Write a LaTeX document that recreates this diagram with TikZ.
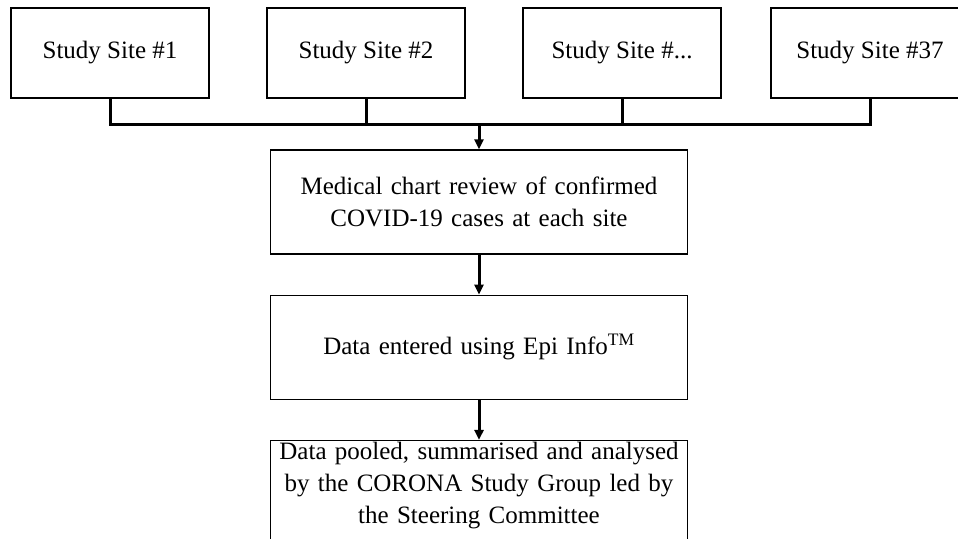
\documentclass[tikz,border=0pt]{standalone}
\usepackage{fontspec}
\setmainfont{Liberation Serif}
\usetikzlibrary{arrows.meta}
\usetikzlibrary{positioning}

\tikzset{
  sitebox/.style={draw, line width=1.3pt, minimum width=198pt, minimum height=90pt, inner sep=0pt},
  flowbox/.style={draw, line width=1.3pt, minimum width=417pt, minimum height=104pt, inner sep=0pt,
    text width=415pt, align=center},
  link/.style={line width=3pt},
  flow/.style={line width=3pt, -{Triangle[length=10pt,width=9pt]}}
}

\begin{document}
\begin{tikzpicture}[x=1pt, y=-1pt, font=\fontsize{25}{32}\selectfont]
  \useasboundingbox (0,0) rectangle (958,538);

  \node[sitebox] (site1) at (110,53) {Study Site \#1};
  \node[sitebox] (site2) at (366,53) {Study Site \#2};
  \node[sitebox] (site3) at (622,53) {Study Site \#...};
  \node[sitebox] (site4) at (870,53) {Study Site \#37};

  \node[flowbox] (review) at (479,202) {Medical chart review of confirmed\\COVID-19 cases at each site};
  \node[flowbox, below=40pt of review] (entry) {Data entered using Epi Info\textsuperscript{TM}};
  \node[flowbox, below=40pt of entry, minimum height=0pt, inner ysep=2pt] (pooled)
    {Data pooled, summarised and analysed\\by the CORONA Study Group led by\\the Steering Committee\\\mbox{}};

  \coordinate (bus) at (review.north |- 0,124);
  \draw[link] (site1.south) |- (bus) -| (site4.south);
  \draw[link] (site2.south) -- (site2.south |- bus);
  \draw[link] (site3.south) -- (site3.south |- bus);

  \draw[flow] (bus) -- (review);
  \draw[flow] (review) -- (entry);
  \draw[flow] (entry) -- (pooled);
\end{tikzpicture}
\end{document}
